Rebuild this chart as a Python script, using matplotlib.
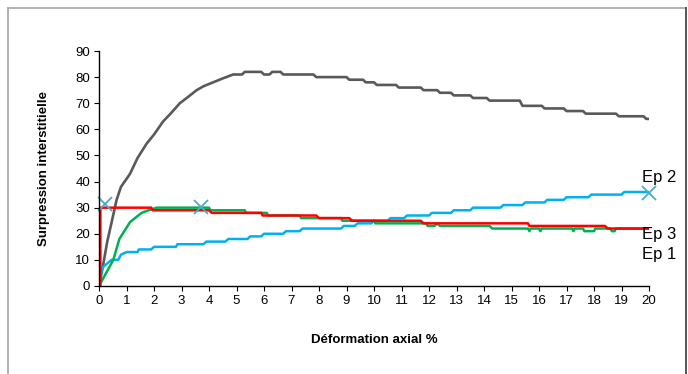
import matplotlib

matplotlib.use("Agg")

import matplotlib.pyplot as plt
from matplotlib.lines import Line2D

plt.rcParams["font.family"] = ["Liberation Sans", "DejaVu Sans"]

# Ep (gray) - high pore pressure curve
gray_x = [0, 0.15, 0.3, 0.45, 0.64, 0.8, 1.0, 1.13, 1.4, 1.73, 2.0, 2.33, 2.6, 2.94,
          3.25, 3.55, 3.8, 4.15, 4.5, 4.88, 5.2, 5.3, 5.9, 6.0, 6.2, 6.3, 6.6, 6.7,
          7.8, 7.9, 9.0, 9.1, 9.6, 9.7, 10.0, 10.1, 10.8, 10.9, 11.7, 11.8, 12.3,
          12.4, 12.8, 12.9, 13.5, 13.6, 14.1, 14.2, 15.3, 15.4, 16.1, 16.2, 16.9,
          17.0, 17.6, 17.7, 18.8, 18.9, 19.8, 19.9, 20.0]
gray_y = [0, 8, 17, 24, 33, 38, 41, 43, 49, 54.5, 58, 63, 66, 70,
          72.5, 75, 76.5, 78, 79.5, 81, 81, 82, 82, 81, 81, 82, 82, 81,
          81, 80, 80, 79, 79, 78, 78, 77, 77, 76, 76, 75, 75,
          74, 74, 73, 73, 72, 72, 71, 71, 69, 69, 68, 68,
          67, 67, 66, 66, 65, 65, 64, 64]

# Ep 3 (red)
red_x = [0, 0.05, 0.05, 1.9, 1.95, 4.0, 4.1, 5.9, 5.95, 7.9, 8.0, 9.1, 9.2, 11.7,
         11.8, 15.6, 15.65, 18.4, 18.5, 20.0]
red_y = [0, 0, 30, 30, 29, 29, 28, 28, 27, 27, 26, 26, 25, 25,
         24, 24, 23, 23, 22, 22]

# Ep 1 (green)
green_x = [0, 0.52, 0.74, 1.13, 1.55, 1.8, 2.1, 4.0, 4.05, 5.3, 5.35, 6.1, 6.15,
           7.3, 7.35, 8.8, 8.85, 10.0, 10.05, 11.9, 11.95, 12.2, 12.3, 12.4, 14.2,
           14.3, 15.6, 15.65, 15.7, 16.0, 16.05, 16.1, 17.2, 17.25, 17.3, 17.6,
           17.65, 18.0, 18.05, 18.6, 18.65, 18.75, 18.8, 20.0]
green_y = [0, 10, 18, 24.5, 28, 29, 30, 30, 29, 29, 28, 28, 27,
           27, 26, 26, 25, 25, 24, 24, 23, 23, 24, 23, 23,
           22, 22, 21, 22, 22, 21, 22, 22, 21, 22, 22,
           21, 21, 22, 22, 21, 21, 22, 22]

# Ep 2 (light blue)
blue_x = [0, 0.12, 0.45, 0.7, 0.8, 1.0, 1.4, 1.45, 1.9, 2.0, 2.8, 2.85, 3.8, 3.9,
          4.6, 4.7, 5.4, 5.5, 5.9, 6.0, 6.7, 6.8, 7.3, 7.4, 8.8, 8.9, 9.3, 9.4,
          9.9, 10.0, 10.5, 10.6, 11.1, 11.2, 12.0, 12.1, 12.8, 12.9, 13.5, 13.6,
          14.6, 14.7, 15.4, 15.5, 16.2, 16.3, 16.9, 17.0, 17.8, 17.9, 19.0, 19.1,
          20.0]
blue_y = [0, 7, 10, 10, 12, 13, 13, 14, 14, 15, 15, 16, 16, 17,
          17, 18, 18, 19, 19, 20, 20, 21, 21, 22, 22, 23, 23, 24,
          24, 25, 25, 26, 26, 27, 27, 28, 28, 29, 29, 30,
          30, 31, 31, 32, 32, 33, 33, 34, 34, 35, 35, 36,
          36]

# cross markers
mark_x = [0.22, 3.72, 20.0]
mark_y = [31.4, 30.1, 35.8]

labels = ["Ep 2", "Ep 3", "Ep 1"]
label_y = [41.4, 19.9, 11.9]

fig = plt.figure(figsize=(6.88, 3.74), dpi=100)
ax = fig.add_axes([99 / 688, 1 - 286 / 374, 550 / 688, 235 / 374])

ax.plot(gray_x, gray_y, color="#595959", linewidth=1.9)
ax.plot(blue_x, blue_y, color="#00b0f0", linewidth=1.8)
ax.plot(green_x, green_y, color="#00b050", linewidth=1.8)
ax.plot(red_x, red_y, color="#ff0000", linewidth=1.8)
ax.plot(mark_x, mark_y, linestyle="none", marker="x", markersize=10,
        markeredgewidth=1.3, color="#4bacc6", clip_on=False)

for text, yv in zip(labels, label_y):
    ax.text(19.75, yv, text, fontsize=12, ha="left", va="center", clip_on=False)

ax.set_xlim(0, 20)
ax.set_ylim(0, 90)
ax.set_xticks(range(0, 21))
ax.set_yticks(range(0, 91, 10))
ax.tick_params(direction="out", length=3.5, width=0.8, labelsize=9.5, pad=3)
for side in ("top", "right"):
    ax.spines[side].set_visible(False)
for side in ("left", "bottom"):
    ax.spines[side].set_linewidth(1.0)

ax.set_xlabel("Déformation axial %", fontsize=9.5, fontweight="bold")
ax.set_ylabel("Surpression interstitielle", fontsize=9.5, fontweight="bold")
ax.xaxis.set_label_coords(0.5, -0.204)
ax.yaxis.set_label_coords(-0.089, 0.5)

# chart area border
W, H = 688, 374
fig.add_artist(Line2D([8 / W, 686 / W], [1 - 8 / H, 1 - 8 / H], color="#a6a6a6",
                      linewidth=1.2, transform=fig.transFigure))
fig.add_artist(Line2D([8 / W, 8 / W], [0, 1 - 8 / H], color="#a6a6a6",
                      linewidth=1.2, transform=fig.transFigure))
fig.add_artist(Line2D([686 / W, 686 / W], [0, 1 - 8 / H], color="#555555",
                      linewidth=1.4, transform=fig.transFigure))

fig.savefig("out.png", dpi=100)
